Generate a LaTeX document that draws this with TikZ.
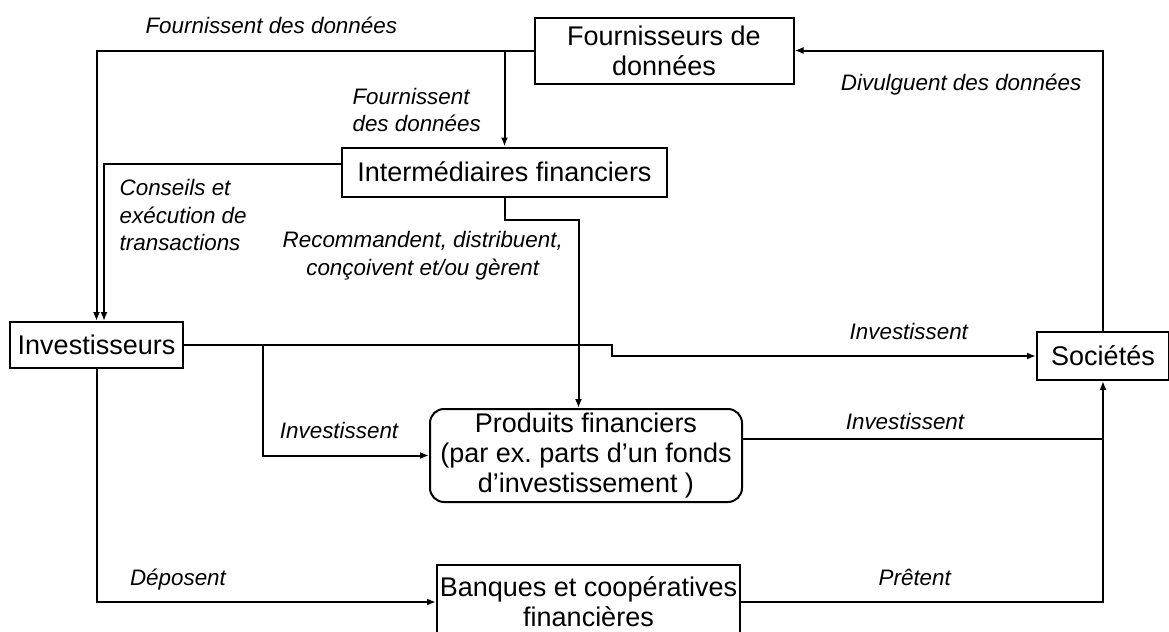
\documentclass[tikz,border=0pt]{standalone}
\usepackage{fontspec}
\setmainfont{Liberation Sans}
\usetikzlibrary{arrows.meta,positioning}
\frenchspacing

\begin{document}
\begin{tikzpicture}[x=0.5pt,y=-0.5pt,
  box/.style={rectangle,draw,line width=1pt,align=center,inner sep=0pt,font=\fontsize{13.5}{15}\selectfont},
  rbox/.style={box,rounded corners=7pt},
  lbl/.style={font=\fontsize{11.2}{13.6}\selectfont\itshape,text depth=0pt},
  arr/.style={-{Latex[length=4.5pt,width=3.5pt]},line width=1pt},
  wire/.style={line width=1pt}
]
\useasboundingbox (0,0) rectangle (1169,632);
\node[box,minimum width=129.5pt,minimum height=33pt] (four) at (664,50.5) {Fournisseurs de\\données};
\node[box,minimum width=162.5pt,minimum height=24.5pt] (inter) at (504.5,172) {Intermédiaires financiers};
\node[box,minimum width=86.5pt,minimum height=23pt] (inv) at (96.5,345) {Investisseurs};
\node[box,minimum width=66pt,minimum height=24pt] (soc) at (1103,356) {Sociétés};
\node[rbox,minimum width=156pt,minimum height=46.5pt] (prod) at (586,455.5) {Produits financiers\\(par ex. parts d’un fonds\\d’investissement )};
\node[box,minimum width=151.5pt,minimum height=37pt] (bank) at (588.5,602) {Banques et coopératives\\financières};
\coordinate (jog) at (612,0);
\coordinate (split) at (262.5,0);
% données
\draw[arr] (four.west) -| node[lbl,above=4.5pt,pos=0.3]{Fournissent des données} (inv.north);
\draw[arr] (four.west -| inter.north) -- node[lbl,left=8pt,align=left,pos=0.62]{Fournissent\\des données} (inter.north);
\draw[arr] ([yshift=4pt]inter.west) -| node[lbl,below right=4pt and 4pt,align=left,pos=0.5]{Conseils et\\exécution de\\transactions} ([xshift=3.75pt]inv.north);
\draw[arr] (inter.south) -- ++(0,22) -| node[lbl,left=4pt,align=center,pos=0.59]{Recommandent, distribuent,\\conçoivent et/ou gèrent} ([xshift=-3.75pt]prod.north);
\draw[arr] (soc.north) |- node[lbl,below=8pt,pos=0.73]{Divulguent des données} (four.east);
% investissements
\draw[arr] (inv.east) -- (inv.east -| jog) -- (soc.west -| jog) -- node[lbl,above=4.5pt,pos=0.70]{Investissent} (soc.west);
\draw[arr] (inv.east -| split) |- node[lbl,above=4.5pt,pos=0.73]{Investissent} (prod.west);
\draw[wire] ([yshift=8.5pt]prod.east) -- node[lbl,above=0.5pt,pos=0.45]{Investissent} ([yshift=8.5pt]prod.east -| soc.south);
\draw[arr] (bank.east) -| node[lbl,above=4.5pt,pos=0.24]{Prêtent} (soc.south);
\draw[arr] (inv.south) |- node[lbl,above=4.5pt,pos=0.62]{Déposent} (bank.west);
\end{tikzpicture}
\end{document}
